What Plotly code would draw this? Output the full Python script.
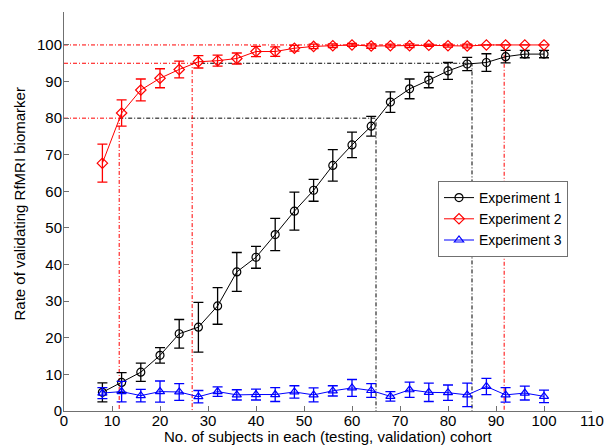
import plotly.graph_objects as go

# ---- data ----
x_vals = [8, 12, 16, 20, 24, 28, 32, 36, 40, 44, 48, 52, 56, 60, 64, 68, 72, 76, 80, 84, 88, 92, 96, 100]

exp1 = [5.1, 7.8, 10.6, 15.2, 21.1, 22.9, 28.7, 38.0, 42.0, 48.2, 54.6, 60.3, 67.1, 72.7, 77.8, 84.4, 88.0, 90.4, 92.9, 94.8, 95.2, 96.8, 97.5, 97.5]
exp1_err = [2.6, 2.7, 2.5, 2.1, 3.9, 6.8, 5.0, 5.3, 3.0, 4.4, 5.2, 3.0, 4.3, 3.5, 2.7, 2.8, 2.7, 2.1, 2.3, 1.8, 2.4, 1.7, 1.0, 1.0]

exp2 = [67.7, 81.4, 87.7, 90.9, 93.3, 95.4, 95.7, 96.3, 98.2, 98.2, 99.1, 99.6, 99.8, 100.0, 99.7, 99.8, 99.8, 99.9, 99.8, 99.7, 100.0, 100.0, 100.0, 100.0]
exp2_err = [5.2, 3.6, 3.0, 2.6, 2.3, 1.7, 1.5, 1.5, 1.4, 1.3, 0.8, 0.6, 0.5, 0.4, 0.6, 0.4, 0.5, 0.3, 0.4, 0.5, 0.0, 0.0, 0.0, 0.0]

exp3 = [4.9, 5.3, 4.2, 5.3, 5.2, 3.9, 5.3, 4.4, 4.5, 4.5, 5.2, 4.4, 5.5, 6.3, 5.6, 4.0, 5.8, 5.1, 5.0, 4.4, 6.7, 4.4, 4.9, 4.0]
exp3_err = [1.5, 2.8, 1.7, 2.9, 2.3, 1.7, 1.3, 1.4, 1.5, 1.9, 1.7, 1.9, 1.4, 2.3, 1.9, 1.3, 2.1, 2.5, 2.1, 3.2, 2.2, 2.0, 1.9, 1.7]

series_names = ["Experiment 1", "Experiment 2", "Experiment 3"]

# reference (threshold) levels and crossing sample sizes
levels = [80, 95, 100]
exp2_cross = [11.5, 26.7, 91.7]
exp1_cross = [65.0, 85.0]

x_ticks = [0, 10, 20, 30, 40, 50, 60, 70, 80, 90, 100, 110]
y_ticks = [0, 10, 20, 30, 40, 50, 60, 70, 80, 90, 100]

x_title = "No. of subjects in each (testing, validation) cohort"
y_title = "Rate of validating RfMRI biomarker"

FONT = "Arial, Liberation Sans, Helvetica, sans-serif"
DASH = "4px,2px,1px,2px"
AXC = "#707070"

# page body has an 8px default margin: the figure is sized/offset to compensate
W, H = 605, 438
ML, MT, MR, MB = 56, 4, 21, 35
PW = W - ML - MR
PH = H - MT - MB
OFF = 8  # body offset in window pixels

def px_x(win_x):
    return (win_x - OFF - ML) / PW

def px_y(win_y):
    return (H - MB - (win_y - OFF)) / PH

fig = go.Figure()

def ref_line(xs, ys, color):
    fig.add_trace(go.Scatter(x=xs, y=ys, mode="lines",
                             line=dict(color=color, width=1, dash=DASH),
                             showlegend=False, hoverinfo="skip"))

# black reference lines (experiment 1)
ref_line([exp2_cross[0], exp1_cross[0], exp1_cross[0]], [levels[0], levels[0], 0], "black")
ref_line([exp2_cross[1], exp1_cross[1], exp1_cross[1]], [levels[1], levels[1], 0], "black")
# red reference lines (experiment 2)
ref_line([0, exp2_cross[0], exp2_cross[0]], [levels[0], levels[0], 0], "red")
ref_line([0, exp2_cross[1], exp2_cross[1]], [levels[1], levels[1], 0], "red")
ref_line([0, exp2_cross[2], exp2_cross[2]], [levels[2], levels[2], 0], "red")

def data_trace(y, err, name, color, symbol):
    fig.add_trace(go.Scatter(
        x=x_vals, y=y, name=name, mode="lines+markers",
        line=dict(color=color, width=1),
        marker=dict(symbol=symbol, size=8, color=color, line=dict(color=color, width=1.2)),
        error_y=dict(type="data", array=err, visible=True, color=color, thickness=1.3, width=5),
    ))

data_trace(exp1, exp1_err, series_names[0], "black", "circle-open")
data_trace(exp2, exp2_err, series_names[1], "red", "diamond-open")
data_trace(exp3, exp3_err, series_names[2], "blue", "triangle-up-open")

fig.update_layout(
    width=W, height=H,
    margin=dict(l=ML, r=MR, t=MT, b=MB, autoexpand=False),
    paper_bgcolor="white", plot_bgcolor="white",
    font=dict(family=FONT, size=15, color="black"),
    showlegend=True,
    legend=dict(x=px_x(438), y=px_y(181), xanchor="left", yanchor="top",
                bgcolor="white", bordercolor=AXC, borderwidth=1,
                font=dict(size=14, family=FONT), tracegroupgap=0,
                itemwidth=30),
    xaxis=dict(range=[0, 110], tickvals=x_ticks, ticks="inside", ticklen=5,
               tickcolor=AXC, showline=True, linecolor=AXC, linewidth=1,
               showgrid=False, zeroline=False, mirror=False, automargin=False,
               tickfont=dict(size=15), ticklabelstandoff=-4),
    yaxis=dict(range=[0, 109], tickvals=y_ticks, ticks="inside", ticklen=5,
               tickcolor=AXC, showline=True, linecolor=AXC, linewidth=1,
               showgrid=False, zeroline=False, mirror=False, automargin=False,
               tickfont=dict(size=15), ticklabelstandoff=-2),
    annotations=[
        dict(text=x_title, xref="paper", yref="paper", x=0.5, y=px_y(437),
             xanchor="center", yanchor="middle", showarrow=False, font=dict(size=15)),
        dict(text=y_title, xref="paper", yref="paper", x=px_x(18.5), y=px_y(204),
             xanchor="center", yanchor="middle", textangle=-90, showarrow=False, font=dict(size=15)),
    ],
)

fig.write_html("out.html")
